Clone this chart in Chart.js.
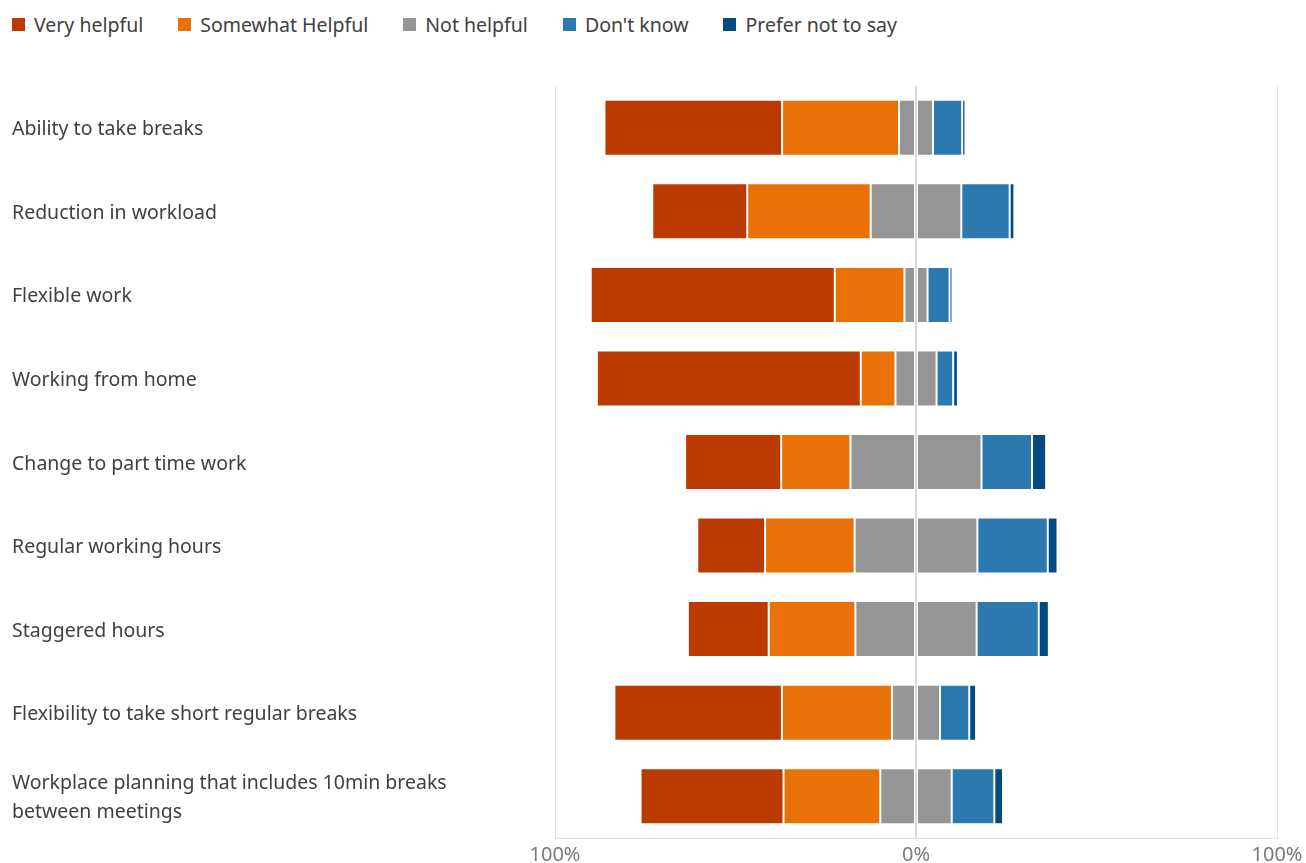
<!DOCTYPE html>
<html>
<head>
<meta charset="utf-8">
<script src="https://cdn.jsdelivr.net/npm/chart.js@4/dist/chart.umd.min.js"></script>
<style>
  html, body { margin: 0; padding: 0; background: #fff; }
  body { width: 1306px; height: 863px; position: relative; overflow: hidden; font-family: "Noto Sans", sans-serif; }
  #legend { position: absolute; left: 12px; top: 11px; display: flex; align-items: center; font-size: 19.5px; color: #404040; }
  #legend .item { display: flex; align-items: center; margin-right: 35px; }
  #legend .box { width: 13px; height: 13px; margin-right: 9px; }
  #wrap { position: absolute; left: 0; top: 0; width: 1306px; height: 863px; }
</style>
</head>
<body>
<div id="legend"></div>
<div id="wrap"><canvas id="chart" aria-label="Diverging bar chart" role="img"></canvas></div>
<script>
const categories = [
  'Ability to take breaks',
  'Reduction in workload',
  'Flexible work',
  'Working from home',
  'Change to part time work',
  'Regular working hours',
  'Staggered hours',
  'Flexibility to take short regular breaks',
  ['Workplace planning that includes 10min breaks', 'between meetings'],
];
const seriesNames = ['Very helpful', 'Somewhat Helpful', 'Not helpful', "Don't know", 'Prefer not to say'];
const seriesColors = ['#BA3A02', '#EA7108', '#959595', '#2C79B0', '#034A82'];

// percentages
const veryHelpful = [49.2, 26.3, 67.6, 73.1, 26.6, 18.8, 22.4, 46.4, 39.6];
const somewhatHelpful = [32.4, 34.2, 19.3, 9.6, 19.2, 24.8, 24.0, 30.5, 26.8];
const notHelpful = [9.4, 25.1, 6.4, 11.4, 36.3, 34.0, 33.6, 13.3, 19.8];
const dontKnow = [8.1, 13.4, 6.1, 4.6, 14.0, 19.5, 17.2, 8.1, 11.8];
const preferNot = [0.9, 1.3, 0.8, 1.3, 3.9, 2.7, 2.8, 1.9, 2.4];

const xTicks = [-100, 0, 100];

const legendEl = document.getElementById('legend');
seriesNames.forEach((name, i) => {
  const item = document.createElement('div');
  item.className = 'item';
  item.innerHTML = `<span class="box" style="background:${seriesColors[i]}"></span><span>${name}</span>`;
  legendEl.appendChild(item);
});

const neg = arr => arr.map(v => -v);
const half = arr => arr.map(v => v / 2);

const barStyle = {
  borderColor: 'rgba(255,255,255,0.12)',
  borderWidth: 1,
  borderSkipped: false,
  barPercentage: 0.67,
  categoryPercentage: 1,
};

// negative side stacks outward from zero: half of neutral, somewhat, very
const datasets = [
  { label: seriesNames[2], data: neg(half(notHelpful)), backgroundColor: seriesColors[2], ...barStyle },
  { label: seriesNames[2], data: half(notHelpful), backgroundColor: seriesColors[2], ...barStyle },
  { label: seriesNames[1], data: neg(somewhatHelpful), backgroundColor: seriesColors[1], ...barStyle },
  { label: seriesNames[3], data: dontKnow, backgroundColor: seriesColors[3], ...barStyle },
  { label: seriesNames[0], data: neg(veryHelpful), backgroundColor: seriesColors[0], ...barStyle },
  { label: seriesNames[4], data: preferNot, backgroundColor: seriesColors[4], ...barStyle },
];

new Chart(document.getElementById('chart'), {
  type: 'bar',
  data: { labels: categories, datasets },
  options: {
    indexAxis: 'y',
    responsive: true,
    maintainAspectRatio: false,
    animation: false,
    layout: { padding: { top: 86, left: 12, right: 29, bottom: 0 } },
    plugins: {
      legend: { display: false },
      tooltip: {
        callbacks: { label: ctx => `${ctx.dataset.label}: ${Math.abs(ctx.raw)}%` },
      },
    },
    scales: {
      x: {
        stacked: true,
        min: -100,
        max: 100,
        z: 1,
        afterBuildTicks: scale => { scale.ticks = xTicks.map(v => ({ value: v })); },
        afterFit: scale => {
          scale.height = 25;
          scale.paddingLeft = 0;
          scale.paddingRight = 0;
        },
        ticks: {
          padding: 7,
          color: '#7a7a7a',
          font: { family: 'Noto Sans', size: 20, lineHeight: 1 },
          callback: v => Math.abs(v) + '%',
        },
        grid: {
          drawTicks: false,
          color: ctx => (ctx.tick && ctx.tick.value === 0 ? '#dadada' : '#e3e3e3'),
          lineWidth: ctx => (ctx.tick && ctx.tick.value === 0 ? 2 : 1),
        },
        border: { display: true, color: '#e3e3e3', width: 1 },
      },
      y: {
        stacked: true,
        afterFit: scale => { scale.width = 543; },
        ticks: {
          crossAlign: 'far',
          padding: 0,
          labelOffset: 2,
          color: '#404040',
          font: { family: 'Noto Sans', size: 19.5, lineHeight: 1.5 },
        },
        grid: { display: false, drawTicks: false },
        border: { display: false },
      },
    },
  },
});
</script>
</body>
</html>
